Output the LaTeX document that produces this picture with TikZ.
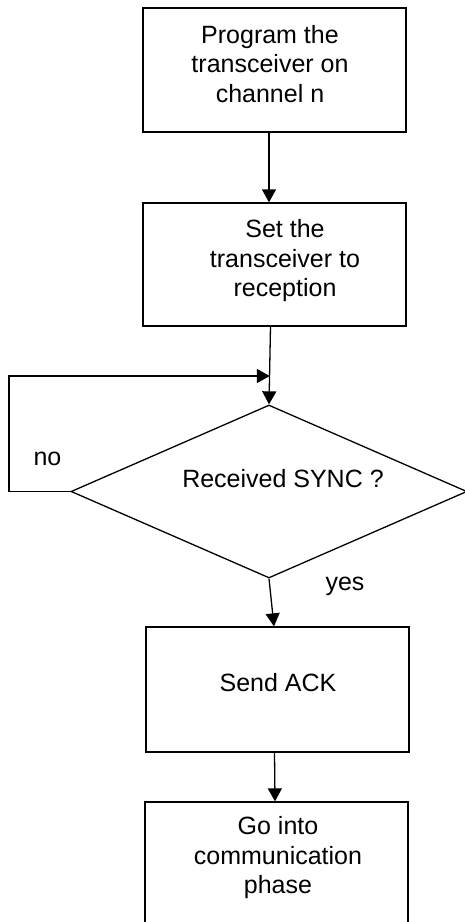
\documentclass[tikz,border=0pt]{standalone}
\usepackage{fontspec}
\setmainfont{Liberation Sans}
\usetikzlibrary{arrows.meta,shapes.geometric}
\tikzset{
  procbox/.style={draw, line width=1.3pt, minimum width=263pt, inner sep=0pt},
  txt/.style={align=center, inner sep=0pt, font=\fontsize{25}{29.5}\selectfont},
  decision/.style={draw, line width=1.3pt, shape=diamond, aspect=2.29, inner sep=0pt, minimum width=396pt, minimum height=173pt},
  flow/.style={line width=1.3pt, -{Triangle[length=13pt,width=14pt]}}
}
\begin{document}
\begin{tikzpicture}[x=1pt,y=-1pt]
\path[fill=white,use as bounding box] (0,0) rectangle (465,922);
% boxes
\node[procbox, minimum height=124pt] (box1) at (274.5,70) {};
\node[txt] (t1) at (270,63.6) {Program the\\transceiver on\\channel n};
\node[procbox, minimum height=123pt] (box2) at (274.5,264.5) {};
\node[txt] (t2) at (285,260.7) {Set the\\transceiver to\\reception};
\node[decision] (sync) at (269,491.5) {};
\node[txt, anchor=base] (t3) at (283,487) {Received SYNC ?};
\node[procbox, minimum height=125pt] (box3) at (277.5,689.5) {};
\node[txt, anchor=base] (t4) at (278,691) {Send ACK};
\node[procbox, minimum height=134pt] (box4) at (276.5,869) {};
\node[txt] (t5) at (278,857.7) {Go into\\communication\\phase};
% labels
\node[txt, anchor=base] (no) at (47.5,465) {no};
\node[txt, anchor=base] (yes) at (345,590) {yes};
% connectors
\coordinate (join) at (269.8,376);
\coordinate (lc) at (9,376);
\draw[flow] ([xshift=-5.5pt]box1.south) -- ([xshift=-5.5pt]box2.north);
\draw[flow] ([xshift=-4pt]box2.south) -- (sync.north);
\draw[flow] (sync.west) -| (lc) -- (join);
\draw[flow] (sync.south) -- ([xshift=-3.5pt]box3.north);
\draw[flow] ([xshift=-3pt]box3.south) -- ([xshift=-1.5pt]box4.north);
\end{tikzpicture}
\end{document}
